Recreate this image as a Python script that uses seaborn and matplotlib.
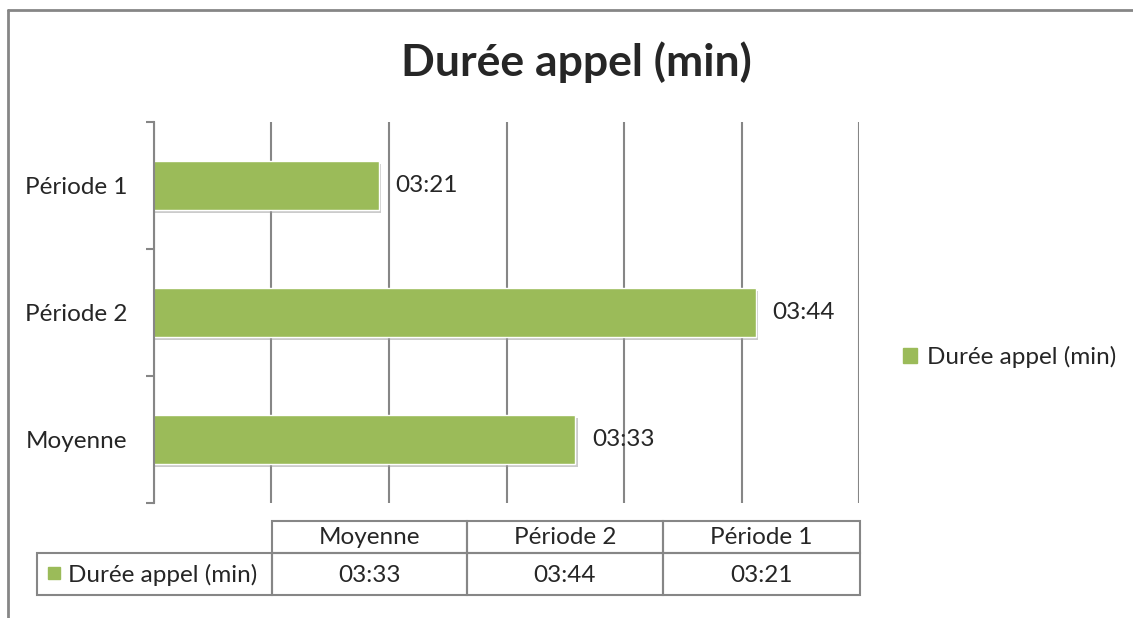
import pandas as pd
import numpy as np
import matplotlib
matplotlib.use("Agg")
import matplotlib.pyplot as plt
import matplotlib.patheffects as pe
from matplotlib.lines import Line2D
from matplotlib.patches import Patch, Rectangle
import seaborn as sns

# data (durations in seconds)
periods = ["Période 1", "Période 2", "Moyenne"]
durations = [201, 224, 213]
series_name = "Durée appel (min)"
table_order = ["Moyenne", "Période 2", "Période 1"]

def mmss(s):
    return "%02d:%02d" % (s // 60, s % 60)

df = pd.DataFrame({"period": periods, "duration": durations})

sns.set_style("white")
plt.rcParams["font.family"] = ["Lato", "DejaVu Sans"]

W, H = 1133, 618
fig = plt.figure(figsize=(W / 100, H / 100), dpi=100)
green = "#9BBB59"
grey = "#868686"
fs = 17.5

ax = fig.add_axes([154 / W, 1 - 503 / H, 705 / W, 381 / H])
sns.barplot(data=df, x="duration", y="period", orient="h", color=green,
            width=0.39, saturation=1, edgecolor="white", linewidth=1, ax=ax)
for bar in ax.patches:
    bar.set_path_effects([pe.SimplePatchShadow(offset=(2, -2), shadow_rgbFace="#999999", alpha=0.5),
                          pe.Normal()])

xmin, xmax = 187.3, 230.3
ax.set_xlim(xmin, xmax)
ax.set_ylim(2.5, -0.5)
ax.set_xticks(np.linspace(xmin, xmax, 7))
ax.set_xticklabels([])
ax.grid(axis="x", color=grey, linewidth=1.5)
ax.tick_params(axis="x", length=0)
ax.set_yticks([-0.5, 0.5, 1.5, 2.5], minor=True)
ax.tick_params(axis="y", which="minor", length=6, width=1.5, color=grey, direction="out", left=True)
ax.tick_params(axis="y", which="major", length=0, pad=19, labelsize=fs)
ax.set_xlabel("")
ax.set_ylabel("")
for side in ["top", "right", "bottom"]:
    ax.spines[side].set_visible(False)
ax.spines["left"].set_color(grey)
ax.spines["left"].set_linewidth(1.5)
ax.set_axisbelow(True)

# value labels
for i, v in enumerate(durations):
    ax.annotate(mmss(v), (v, i), xytext=(12, 0), textcoords="offset points",
                va="center", ha="left", fontsize=fs)

# title
fig.text(576 / W, 1 - 62 / H, series_name, ha="center", va="center",
         fontsize=32, fontweight="bold")

# legend
fig.legend(handles=[Patch(color=green)], labels=[series_name], loc="center left",
           bbox_to_anchor=(881 / W, 1 - 357 / H), frameon=False, fontsize=fs,
           handlelength=0.6, handleheight=0.6, handletextpad=0.4)

# data table, drawn in a pixel-coordinate overlay
tax = fig.add_axes([0, 0, 1, 1], zorder=-1)
tax.set_xlim(0, W)
tax.set_ylim(H, 0)
tax.axis("off")
lookup = dict(zip(periods, durations))
col_edges = [272, 467, 663, 860]
top, mid, bot, left = 521, 553, 595, 37
for i, p in enumerate(table_order):
    x0, x1 = col_edges[i], col_edges[i + 1]
    tax.add_patch(Rectangle((x0, top), x1 - x0, mid - top, fill=False, edgecolor=grey, linewidth=1.5))
    tax.add_patch(Rectangle((x0, mid), x1 - x0, bot - mid, fill=False, edgecolor=grey, linewidth=1.5))
    tax.text((x0 + x1) / 2, (top + mid) / 2 + 1, p, ha="center", va="center", fontsize=fs)
    tax.text((x0 + x1) / 2, (mid + bot) / 2 + 1, mmss(lookup[p]), ha="center", va="center", fontsize=fs)
tax.add_patch(Rectangle((left, mid), col_edges[0] - left, bot - mid, fill=False, edgecolor=grey, linewidth=1.5))
tax.add_patch(Rectangle((48, 567), 12, 12, color=green))
tax.text(68, (mid + bot) / 2 + 1, series_name, ha="left", va="center", fontsize=fs)

# outer chart frame (partially visible)
fig.add_artist(Line2D([8 / W, 1], [1 - 10 / H, 1 - 10 / H], color=grey, linewidth=2))
fig.add_artist(Line2D([8 / W, 8 / W], [0, 1 - 10 / H], color=grey, linewidth=2))

fig.savefig("out.png", dpi=100)
